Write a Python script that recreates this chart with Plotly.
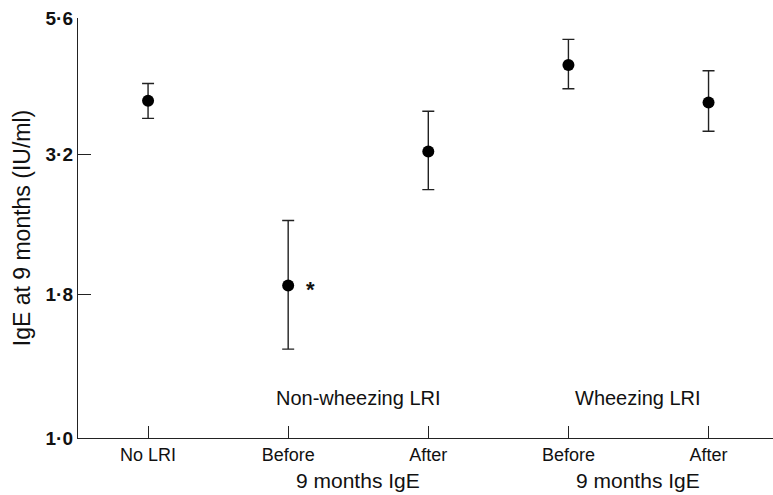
import numpy as np
import plotly.graph_objects as go

categories = ["No LRI", "Before", "After", "Before", "After"]
group_labels = ["Non-wheezing LRI", "Wheezing LRI"]
sub_label = "9 months IgE"
means = [3.99, 1.87, 3.24, 4.62, 3.96]
upper = [4.28, 2.44, 3.82, 5.13, 4.51]
lower = [3.71, 1.44, 2.77, 4.19, 3.52]
y_ticks = [1.0, 1.8, 3.2, 5.6]
y_tick_text = ["1·0", "1·8", "3·2", "5·6"]

x = list(range(1, len(categories) + 1))
err_plus = [u - m for u, m in zip(upper, means)]
err_minus = [m - l for m, l in zip(means, lower)]

FONT = "Liberation Sans, Arial, Helvetica, sans-serif"
INK = "#111"

fig = go.Figure()
fig.add_trace(go.Scatter(
    x=x, y=means, mode="markers",
    marker=dict(color="black", size=12, symbol="circle"),
    error_y=dict(type="data", symmetric=False, array=err_plus, arrayminus=err_minus,
                 color="#222", thickness=1.4, width=6),
    showlegend=False,
))

annotations = []
for i, g in enumerate(group_labels):
    cx = (x[1 + 2 * i] + x[2 + 2 * i]) / 2
    annotations.append(dict(x=cx, y=0.095, xref="x", yref="paper", text=g, showarrow=False,
                            font=dict(size=20, color=INK, family=FONT), yanchor="middle"))
    annotations.append(dict(x=cx, y=-0.1, xref="x", yref="paper", text=sub_label, showarrow=False,
                            font=dict(size=21, color=INK, family=FONT), yanchor="middle"))
annotations.append(dict(x=x[1], y=np.log10(means[1]), xref="x", yref="y", text="<b>*</b>",
                        showarrow=False, xshift=22, yshift=-4,
                        font=dict(size=22, color=INK, family=FONT)))

fig.update_layout(
    width=773, height=495,
    margin=dict(l=78, r=0, t=18, b=57, autoexpand=False),
    paper_bgcolor="white", plot_bgcolor="white",
    font=dict(family=FONT, color=INK),
    annotations=annotations,
    xaxis=dict(
        range=[0.5, 5.46], tickvals=x, ticktext=categories,
        ticks="inside", ticklen=12, tickwidth=1.2, tickcolor="#222",
        showline=True, linecolor="#222", linewidth=1.4,
        showgrid=False, zeroline=False, automargin=False,
        tickfont=dict(size=18, color=INK),
    ),
    yaxis=dict(
        type="log", range=[0, np.log10(y_ticks[-1])],
        tickvals=y_ticks, ticktext=y_tick_text,
        ticks="inside", ticklen=13, tickwidth=1.2, tickcolor="#222",
        showline=True, linecolor="#222", linewidth=1.4,
        showgrid=False, zeroline=False, automargin=False,
        tickfont=dict(size=19, color=INK, weight="bold"),
        title=dict(text="IgE at 9 months (IU/ml)", font=dict(size=23, color=INK), standoff=8),
    ),
)

fig.write_html("out.html", config={"displayModeBar": False},
               post_script="document.body.style.margin='0';document.body.style.padding='0';")
